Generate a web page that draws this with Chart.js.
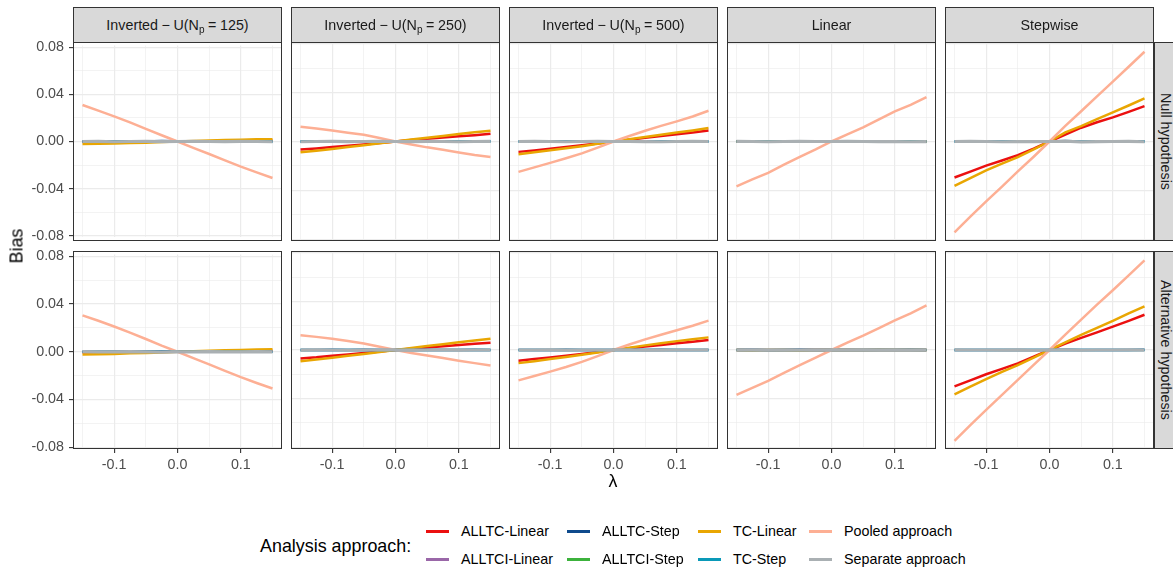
<!DOCTYPE html>
<html>
<head>
<meta charset="utf-8">
<script src="https://cdn.jsdelivr.net/npm/chart.js@4"></script>
<style>
body { margin:0; width:1173px; height:571px; overflow:hidden; background:#fff; position:relative;
       font-family:'Liberation Sans', Arial, sans-serif; }
canvas { position:absolute; }
.frame { position:absolute; border:1px solid #333; box-sizing:border-box; pointer-events:none; }
.strip { position:absolute; background:#D9D9D9; border:1px solid #333; box-sizing:border-box;
         display:flex; align-items:center; justify-content:center; font-size:14.3px; color:#1A1A1A; white-space:nowrap; }
.strip .sb { font-size:10px; position:relative; top:4px; }
.rstrip { writing-mode:vertical-rl; }
.lab { position:absolute; white-space:nowrap; }
</style>
</head>
<body>
<script>
// lambda grid shared by all panels
const lambda = [-0.15,-0.125,-0.1,-0.075,-0.05,-0.025,0,0.025,0.05,0.075,0.1,0.125,0.15];

const panelTitles = [
  'Inverted\u2005\u2212\u2005U(N<span class="sb">p</span>\u2005=\u2005125)',
  'Inverted\u2005\u2212\u2005U(N<span class="sb">p</span>\u2005=\u2005250)',
  'Inverted\u2005\u2212\u2005U(N<span class="sb">p</span>\u2005=\u2005500)',
  'Linear', 'Stepwise'];
const rowTitles = ['Null hypothesis', 'Alternative hypothesis'];

const xMajor = [-0.1, 0, 0.1];
const xTickLabels = ['-0.1', '0.0', '0.1'];
const xMinor = [-0.15, -0.05, 0.05, 0.15];
const yMajor = [-0.08, -0.04, 0, 0.04, 0.08];
const yTickLabels = ['-0.08', '-0.04', '0.00', '0.04', '0.08'];
const yMinor = [-0.06, -0.02, 0.02, 0.06];

// legend: row 1 then row 2
const legendNames = ['ALLTC-Linear','ALLTC-Step','TC-Linear','Pooled approach',
                     'ALLTCI-Linear','ALLTCI-Step','TC-Step','Separate approach'];
const legendColors = ['#EB1010','#0E4A8C','#E9A602','#FDAF94',
                      '#9A67A8','#3CB23C','#0A99B8','#AAB0B3'];

// one row per facet column: Inv-U 125, Inv-U 250, Inv-U 500, Linear, Stepwise
const alltcLinearNull = [
 [-0.0004,-0.0003,-0.0003,-0.0002,-0.0001,0.0000,0.0000,0.0002,0.0003,0.0004,0.0005,0.0006,0.0008],
 [-0.0066,-0.0057,-0.0046,-0.0035,-0.0024,-0.0012,0.0000,0.0012,0.0022,0.0032,0.0043,0.0052,0.0063],
 [-0.0085,-0.0073,-0.0059,-0.0045,-0.0031,-0.0016,0.0000,0.0015,0.0030,0.0045,0.0059,0.0074,0.0090],
 [0.0000,0.0001,-0.0001,0.0000,0.0001,0.0002,0.0000,-0.0001,0.0000,0.0001,0.0000,-0.0001,0.0000],
 [-0.0295,-0.0247,-0.0198,-0.0156,-0.0112,-0.0058,0.0000,0.0057,0.0113,0.0158,0.0198,0.0243,0.0290]
];
const alltcStepNull = [
 [0.0000,0.0000,0.0001,0.0000,0.0001,0.0004,0.0003,0.0000,0.0001,0.0000,0.0000,0.0002,0.0000],
 [0.0000,0.0000,0.0003,0.0000,0.0001,0.0000,0.0000,0.0000,0.0001,0.0002,0.0000,0.0000,0.0003],
 [0.0000,0.0001,0.0000,0.0002,0.0003,0.0000,0.0000,0.0000,0.0000,0.0002,0.0001,0.0000,0.0000],
 [0.0000,0.0003,-0.0003,0.0000,0.0001,0.0000,0.0003,0.0000,0.0000,0.0002,0.0000,0.0003,0.0000],
 [0.0000,0.0000,0.0001,0.0000,0.0000,0.0000,0.0000,0.0004,0.0001,0.0000,0.0000,0.0001,0.0002]
];
const tcLinearNull = [
 [-0.0021,-0.0020,-0.0017,-0.0013,-0.0010,-0.0005,0.0000,0.0005,0.0009,0.0012,0.0015,0.0019,0.0020],
 [-0.0088,-0.0075,-0.0061,-0.0046,-0.0031,-0.0015,0.0000,0.0016,0.0031,0.0046,0.0061,0.0076,0.0089],
 [-0.0104,-0.0089,-0.0072,-0.0055,-0.0038,-0.0019,0.0000,0.0019,0.0037,0.0055,0.0073,0.0091,0.0110],
 [0.0000,-0.0002,0.0001,0.0000,-0.0002,0.0001,0.0000,0.0001,-0.0001,0.0001,-0.0002,0.0000,0.0001],
 [-0.0364,-0.0300,-0.0236,-0.0181,-0.0128,-0.0064,0.0000,0.0075,0.0126,0.0183,0.0238,0.0295,0.0353]
];
const pooledNull = [
 [0.0310,0.0262,0.0213,0.0162,0.0107,0.0053,0.0000,-0.0054,-0.0106,-0.0160,-0.0214,-0.0262,-0.0310],
 [0.0120,0.0106,0.0090,0.0072,0.0055,0.0028,0.0000,-0.0025,-0.0048,-0.0068,-0.0090,-0.0110,-0.0127],
 [-0.0249,-0.0212,-0.0175,-0.0137,-0.0097,-0.0050,0.0000,0.0045,0.0088,0.0128,0.0165,0.0205,0.0252],
 [-0.0367,-0.0310,-0.0257,-0.0190,-0.0126,-0.0065,0.0000,0.0058,0.0115,0.0182,0.0246,0.0300,0.0364],
 [-0.0745,-0.0615,-0.0490,-0.0370,-0.0245,-0.0125,0.0000,0.0128,0.0248,0.0370,0.0490,0.0612,0.0735]
];
const tcStepNull = [
 [0.0000,0.0000,0.0001,0.0000,0.0000,0.0001,0.0000,0.0000,0.0000,0.0001,0.0000,0.0000,0.0000],
 [0.0000,0.0001,0.0000,0.0000,0.0001,0.0000,0.0000,0.0001,0.0000,0.0000,0.0000,0.0000,0.0001],
 [0.0000,0.0000,0.0000,0.0001,0.0000,0.0000,0.0000,0.0000,0.0001,0.0000,0.0000,0.0000,0.0000],
 [0.0000,0.0000,0.0001,0.0000,0.0000,0.0000,0.0000,0.0000,0.0000,0.0001,0.0000,0.0000,0.0000],
 [0.0000,0.0000,0.0000,0.0001,0.0000,0.0000,0.0000,0.0001,0.0000,0.0000,0.0000,0.0000,0.0000]
];
const separateNull = [
 [0.0000,0.0001,-0.0002,0.0000,0.0001,-0.0001,0.0000,0.0001,0.0000,-0.0001,0.0001,0.0000,-0.0002],
 [-0.0002,0.0000,0.0001,-0.0001,0.0000,0.0001,0.0000,-0.0001,0.0001,0.0000,-0.0002,0.0000,0.0001],
 [0.0000,0.0001,0.0000,-0.0002,0.0000,0.0001,0.0000,0.0000,-0.0001,-0.0002,0.0000,0.0001,0.0000],
 [0.0001,0.0000,-0.0002,0.0000,0.0001,0.0000,0.0000,0.0001,0.0000,-0.0001,0.0000,-0.0002,-0.0001],
 [0.0000,0.0001,0.0000,-0.0002,0.0000,-0.0001,0.0000,0.0002,-0.0003,-0.0001,0.0000,0.0001,-0.0002]
];

const alltcLinearAlt = [
 [-0.0005,-0.0004,-0.0002,-0.0002,-0.0001,0.0000,0.0000,0.0001,0.0003,0.0004,0.0006,0.0007,0.0009],
 [-0.0070,-0.0060,-0.0047,-0.0036,-0.0025,-0.0012,0.0000,0.0011,0.0021,0.0031,0.0041,0.0051,0.0060],
 [-0.0088,-0.0075,-0.0061,-0.0047,-0.0032,-0.0016,0.0000,0.0014,0.0028,0.0042,0.0055,0.0068,0.0082],
 [0.0001,0.0000,0.0001,-0.0001,0.0001,0.0002,0.0000,0.0000,-0.0001,0.0001,0.0001,0.0000,0.0000],
 [-0.0300,-0.0250,-0.0200,-0.0155,-0.0110,-0.0055,0.0000,0.0052,0.0100,0.0145,0.0192,0.0240,0.0290]
];
const alltcStepAlt = [
 [0.0000,0.0001,0.0000,0.0000,0.0002,0.0003,0.0001,0.0000,0.0000,0.0001,0.0000,0.0003,0.0000],
 [0.0001,0.0000,0.0002,0.0000,0.0003,0.0000,0.0000,0.0000,0.0001,0.0000,0.0000,0.0002,0.0000],
 [0.0000,0.0001,0.0000,0.0002,0.0000,0.0000,0.0000,0.0001,0.0000,0.0002,0.0000,0.0000,0.0000],
 [0.0000,0.0002,-0.0002,0.0000,0.0002,0.0000,0.0001,0.0000,0.0000,0.0001,0.0000,0.0002,0.0000],
 [0.0000,0.0000,0.0001,0.0000,0.0001,0.0000,0.0000,0.0003,0.0001,0.0000,0.0000,0.0001,0.0002]
];
const tcLinearAlt = [
 [-0.0022,-0.0021,-0.0018,-0.0013,-0.0011,-0.0005,0.0000,0.0004,0.0009,0.0013,0.0016,0.0020,0.0022],
 [-0.0092,-0.0078,-0.0063,-0.0048,-0.0032,-0.0016,0.0000,0.0016,0.0032,0.0048,0.0064,0.0079,0.0093],
 [-0.0108,-0.0092,-0.0075,-0.0057,-0.0039,-0.0020,0.0000,0.0019,0.0038,0.0056,0.0073,0.0089,0.0104],
 [0.0000,-0.0002,0.0001,0.0000,-0.0002,0.0001,0.0000,0.0001,-0.0001,0.0001,-0.0001,0.0000,0.0001],
 [-0.0365,-0.0302,-0.0240,-0.0180,-0.0125,-0.0062,0.0000,0.0062,0.0124,0.0182,0.0240,0.0302,0.0360]
];
const pooledAlt = [
 [0.0305,0.0260,0.0212,0.0161,0.0107,0.0051,0.0000,-0.0053,-0.0106,-0.0160,-0.0213,-0.0262,-0.0308],
 [0.0122,0.0108,0.0092,0.0074,0.0054,0.0027,0.0000,-0.0024,-0.0046,-0.0066,-0.0088,-0.0108,-0.0128],
 [-0.0250,-0.0214,-0.0178,-0.0140,-0.0098,-0.0050,0.0000,0.0045,0.0087,0.0126,0.0162,0.0200,0.0242],
 [-0.0370,-0.0312,-0.0255,-0.0188,-0.0125,-0.0063,0.0000,0.0060,0.0118,0.0180,0.0243,0.0302,0.0368],
 [-0.0748,-0.0618,-0.0493,-0.0370,-0.0246,-0.0123,0.0000,0.0126,0.0250,0.0373,0.0492,0.0614,0.0738]
];
const tcStepAlt = [
 [0.0000,0.0000,0.0001,0.0000,0.0000,0.0000,0.0000,0.0000,0.0001,0.0000,0.0000,0.0000,0.0000],
 [0.0000,0.0000,0.0000,0.0001,0.0000,0.0000,0.0000,0.0000,0.0000,0.0000,0.0001,0.0000,0.0000],
 [0.0000,0.0001,0.0000,0.0000,0.0000,0.0000,0.0000,0.0001,0.0000,0.0000,0.0000,0.0000,0.0000],
 [0.0000,0.0000,0.0000,0.0000,0.0001,0.0000,0.0000,0.0000,0.0000,0.0000,0.0000,0.0001,0.0000],
 [0.0000,0.0000,0.0000,0.0000,0.0000,0.0001,0.0000,0.0000,0.0000,0.0001,0.0000,0.0000,0.0000]
];
const separateAlt = [
 [0.0001,0.0000,-0.0001,0.0001,0.0000,-0.0002,0.0000,0.0000,0.0001,-0.0001,0.0000,0.0001,-0.0001],
 [-0.0001,0.0001,0.0000,-0.0002,0.0000,0.0000,0.0000,-0.0001,0.0000,0.0001,-0.0001,0.0000,0.0000],
 [0.0000,0.0000,0.0001,-0.0001,0.0000,0.0000,0.0000,0.0001,-0.0002,-0.0001,0.0000,0.0000,0.0001],
 [0.0000,0.0001,-0.0001,0.0000,0.0000,0.0001,0.0000,0.0000,0.0001,-0.0002,0.0000,-0.0001,0.0000],
 [0.0001,0.0000,0.0000,-0.0001,0.0001,-0.0002,0.0000,0.0001,-0.0002,0.0000,0.0000,0.0001,-0.0001]
];

// drawing order: lower order value is drawn on top
const seriesByRow = [
  [separateNull, tcStepNull, pooledNull, tcLinearNull, alltcStepNull, alltcLinearNull],
  [separateAlt, tcStepAlt, pooledAlt, tcLinearAlt, alltcStepAlt, alltcLinearAlt]
];
const seriesColors = ['#AAB0B3', '#0A99B8', '#FDAF94', '#E9A602', '#0E4A8C', '#EB1010'];

// layout
const colLeft = [73, 291, 509, 727, 945];
const panelW = 209;
const rowTop = [42, 251];
const panelH = [199, 198];
const FONT = "'Liberation Sans', Arial, sans-serif";

function addDiv(cls, html, css) {
  const d = document.createElement('div');
  d.className = cls;
  d.innerHTML = html;
  Object.assign(d.style, css);
  document.body.appendChild(d);
  return d;
}

function tickList(major, labels, minor) {
  let t = major.map((v, i) => ({ value: v, lab: labels[i], mj: true }));
  t = t.concat(minor.map(v => ({ value: v, lab: '', mj: false })));
  return t.sort((a, b) => a.value - b.value);
}

function makePanel(r, c) {
  const px = colLeft[c], py = rowTop[r], ph = panelH[r];
  const padTop = 10;
  const axisH = r === 1 ? 40 : 0;
  const padBottom = r === 1 ? 0 : 10;
  const leftW = c === 0 ? px : 0;

  const cv = document.createElement('canvas');
  cv.width = leftW + panelW;
  cv.height = padTop + ph + axisH + padBottom;
  cv.style.left = (px - leftW) + 'px';
  cv.style.top = (py - padTop) + 'px';
  document.body.appendChild(cv);

  const datasets = seriesByRow[r].map((s, k) => ({
    data: lambda.map((x, i) => ({ x: x, y: s[c][i] })),
    borderColor: seriesColors[k],
    borderWidth: k === 0 ? 3.2 : 2.5,
    order: k,
    pointRadius: 0,
    fill: false,
    tension: 0
  }));

  const gridOpts = (show) => ({
    color: '#EBEBEB',
    lineWidth: ctx => (ctx.tick && ctx.tick.mj) ? 1.2 : 0.6,
    drawTicks: show,
    tickLength: 4,
    tickWidth: 1.1,
    tickColor: ctx => (ctx.tick && ctx.tick.mj) ? '#333333' : 'rgba(0,0,0,0)'
  });

  new Chart(cv, {
    type: 'line',
    data: { datasets: datasets },
    options: {
      responsive: false,
      animation: false,
      events: [],
      layout: { padding: { top: padTop, bottom: padBottom, left: 0, right: 0 } },
      plugins: { legend: { display: false }, tooltip: { enabled: false } },
      scales: {
        x: {
          type: 'linear', min: -0.165, max: 0.165, bounds: 'data',
          afterBuildTicks: s => { s.ticks = tickList(xMajor, xTickLabels, xMinor); },
          afterFit: s => { s.height = axisH; },
          ticks: { display: r === 1, autoSkip: false, maxRotation: 0, padding: 3, color: '#4D4D4D',
                   font: { size: 14.3, family: FONT }, callback: (v, i, t) => t[i].lab },
          grid: gridOpts(r === 1),
          border: { display: false }
        },
        y: {
          type: 'linear', min: -0.0815, max: 0.0815, bounds: 'data',
          afterBuildTicks: s => { s.ticks = tickList(yMajor, yTickLabels, yMinor); },
          afterFit: s => { s.width = leftW; },
          ticks: { display: c === 0, autoSkip: false, padding: 5, color: '#4D4D4D',
                   font: { size: 14.3, family: FONT }, callback: (v, i, t) => t[i].lab },
          grid: gridOpts(c === 0),
          border: { display: false }
        }
      }
    }
  });

  addDiv('frame', '', { left: px + 'px', top: py + 'px', width: panelW + 'px', height: ph + 'px' });
}

for (let r = 0; r < 2; r++) {
  for (let c = 0; c < 5; c++) makePanel(r, c);
}

// facet strips
panelTitles.forEach((t, c) => {
  addDiv('strip', t, { left: colLeft[c] + 'px', top: '7px', width: panelW + 'px', height: '36px' });
});
rowTitles.forEach((t, r) => {
  addDiv('strip rstrip', t, { left: '1154px', top: rowTop[r] + 'px', width: '24px', height: panelH[r] + 'px' });
});

// axis titles
addDiv('lab', 'Bias', { left: '17px', top: '246px', fontSize: '17.9px', color: '#000',
  transform: 'translate(-50%,-50%) rotate(-90deg)' });
addDiv('lab', '\u03BB', { left: '613px', top: '481px', fontSize: '17.9px', color: '#000',
  transform: 'translate(-50%,-50%)' });

// legend
addDiv('lab', 'Analysis approach:', { left: '260px', top: '546px', fontSize: '17.9px', color: '#000',
  transform: 'translateY(-50%)' });
const keyX = [426, 567, 698, 809];
const labelX = [461, 602, 733, 844];
const legendRowY = [531, 559];
legendNames.forEach((name, i) => {
  const col = i % 4, row = Math.floor(i / 4);
  addDiv('lab', '', { left: keyX[col] + 'px', top: (legendRowY[row] - 1.5) + 'px', width: '23px', height: '3px',
    background: legendColors[i] });
  addDiv('lab', name, { left: labelX[col] + 'px', top: legendRowY[row] + 'px', fontSize: '14.3px', color: '#000',
    transform: 'translateY(-50%)' });
});
</script>
</body>
</html>
